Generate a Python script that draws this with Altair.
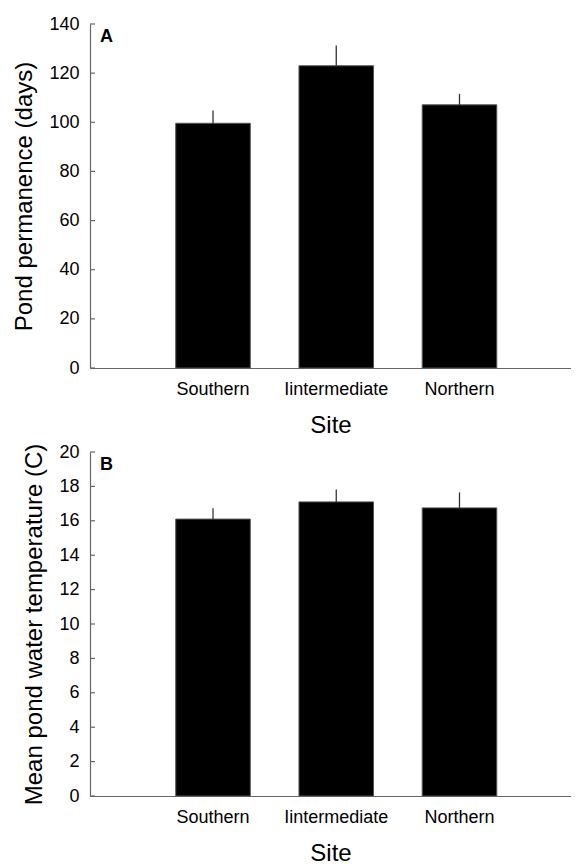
import altair as alt
import pandas as pd

sites = ["Southern", "Iintermediate", "Northern"]
perm_mean = [99.6, 123.0, 107.1]
perm_se = [5.2, 8.2, 4.5]
temp_mean = [16.1, 17.1, 16.75]
temp_se = [0.63, 0.72, 0.9]
perm_ticks = [0, 20, 40, 60, 80, 100, 120, 140]
temp_ticks = [0, 2, 4, 6, 8, 10, 12, 14, 16, 18, 20]

FONT = "Liberation Sans"
AXIS_COLOR = "#666666"


def panel(means, ses, ticks, ymax, ytitle, letter):
    df = pd.DataFrame({
        "site": sites,
        "mean": means,
        "upper": [m + s for m, s in zip(means, ses)],
    })
    xscale = alt.Scale(domain=sites, paddingInner=0.395, paddingOuter=0.649, align=0.536)
    xaxis = alt.Axis(
        title="Site", ticks=False, tickSize=0, labelFontSize=18, labelPadding=12,
        labelFont=FONT, labelColor="#000000", titleFont=FONT, titleFontSize=24,
        titleFontWeight="normal", titleColor="#000000", titlePadding=15,
        domainColor=AXIS_COLOR, domainWidth=1.2, labelAngle=0, grid=False,
        labelOverlap=False,
    )
    yscale = alt.Scale(domain=[0, ymax], nice=False, zero=True)
    yaxis = alt.Axis(
        values=ticks, tickCount=len(ticks), title=ytitle, ticks=False, tickSize=0,
        labelFontSize=18, labelPadding=11, labelFont=FONT, labelColor="#000000",
        titleFont=FONT, titleFontSize=24, titleFontWeight="normal",
        titleColor="#000000", titlePadding=12, domainColor=AXIS_COLOR,
        domainWidth=1.2, grid=False, labelOverlap=False, labelFlush=False,
    )
    base = alt.Chart(df)
    bars = base.mark_bar(color="#000000", stroke="#555555", strokeWidth=1).encode(
        x=alt.X("site:N", sort=sites, scale=xscale, axis=xaxis),
        y=alt.Y("mean:Q", scale=yscale, axis=yaxis),
    )
    err = base.mark_rule(color="#333333", strokeWidth=1.3).encode(
        x=alt.X("site:N", sort=sites, scale=xscale, axis=xaxis),
        y=alt.Y("mean:Q", scale=yscale, axis=yaxis),
        y2="upper:Q",
    )
    tk = alt.Chart(pd.DataFrame({"v": ticks})).mark_rule(
        color=AXIS_COLOR, strokeWidth=1.2
    ).encode(
        y=alt.Y("v:Q", scale=yscale, axis=yaxis),
        x=alt.value(0),
        x2=alt.value(5),
    )
    lab = alt.Chart(pd.DataFrame({"t": [letter]})).mark_text(
        font=FONT, fontSize=18, fontWeight="bold", align="left", baseline="top",
        color="#000000",
    ).encode(text="t:N", x=alt.value(10), y=alt.value(4))
    return alt.layer(bars, err, tk, lab).properties(width=481, height=344)


chart = alt.vconcat(
    panel(perm_mean, perm_se, perm_ticks, 140, "Pond permanence (days)", "A"),
    panel(temp_mean, temp_se, temp_ticks, 20, "Mean pond water temperature (C)", "B"),
    spacing=6,
).properties(
    padding={"left": 4, "top": 7, "right": 0, "bottom": 0},
    background="#ffffff",
).configure_view(
    stroke=None
).configure_axis(
    labelOverlap=False
)

chart.save("out.html", embed_options={"renderer": "svg", "actions": False})
